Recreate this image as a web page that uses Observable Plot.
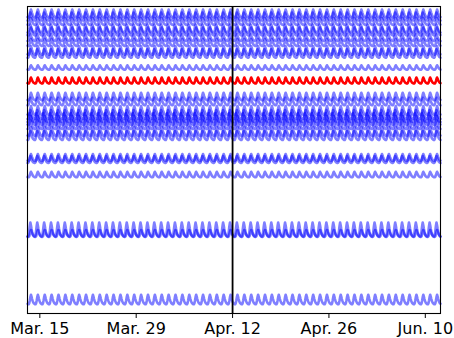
<!DOCTYPE html>
<html>
<head>
<meta charset="utf-8">
<script src="https://cdn.jsdelivr.net/npm/d3@7"></script>
<script src="https://cdn.jsdelivr.net/npm/@observablehq/plot@0.6"></script>
<style>
  html, body { margin: 0; padding: 0; background: #fff; }
  #chart { width: 454px; height: 338px; }
  svg { font-family: "DejaVu Sans", sans-serif; }
</style>
</head>
<body>
<div id="chart"></div>
<script>
// Series baselines (data units) and peak-to-peak daily amplitudes
const seriesLevels = [30.0, 29.7, 29.2, 28.5, 28.2, 27.6, 27.1, 26.3, 26.0, 24.6,
                      21.7, 21.2, 20.3, 19.9, 19.6, 19.3, 18.9, 18.2, 17.8,
                      15.6, 15.4, 13.9, 8.4, 8.0, 1.4];
const seriesAmps   = [0.8, 0.8, 0.7, 0.8, 0.8, 0.7, 0.7, 0.85, 0.85, 0.45,
                      0.75, 0.75, 0.9, 0.9, 0.9, 0.9, 0.9, 0.9, 0.9,
                      0.7, 0.7, 0.55, 1.4, 0.7, 0.95];
// Phase offset of each series' daily cycle, in 2-hour steps
const seriesPhase  = [0, 1, 0, 1, 0, 1, 0, 0, 1, 0,
                      0, 1, 0, 1, 2, 0, 1, 0, 1,
                      0, 1, 0, 1, 0, 0];
// Highlighted (red) series
const redLevel = 23.3;
const redAmp = 0.6;
// Shape of one daily cycle, 2-hour steps
const dailyProfile = [-0.45, -0.5, -0.5, -0.4, -0.1, 0.25, 0.5, 0.3, 0.05, -0.15, -0.3, -0.4];
// Time span and event marker
const startDate = new Date(Date.UTC(2021, 2, 13, 5));
const endDate = new Date(Date.UTC(2021, 4, 12, 5));
const eventDate = [new Date(Date.UTC(2021, 3, 12))];
// Tick positions and labels
const tickDates = [new Date(Date.UTC(2021, 2, 15)), new Date(Date.UTC(2021, 2, 29)),
                   new Date(Date.UTC(2021, 3, 12)), new Date(Date.UTC(2021, 3, 26)),
                   new Date(Date.UTC(2021, 4, 10))];
const tickLabels = ["Mar. 15", "Mar. 29", "Apr. 12", "Apr. 26", "Jun. 10"];

function buildSeries(level, amp, phase, id) {
  const out = [];
  const n = dailyProfile.length;
  const nDays = Math.ceil((endDate - startDate) / 864e5);
  for (let d = 0; d <= nDays; d++) {
    for (let k = 0; k < n; k++) {
      const t = new Date(+startDate + d * 864e5 + k * 2 * 36e5);
      if (t <= endDate) out.push({id, date: t, value: level + amp * dailyProfile[(k + phase) % n]});
    }
  }
  return out;
}

const blueData = seriesLevels.flatMap((lv, i) => buildSeries(lv, seriesAmps[i], seriesPhase[i], i));
const redData = buildSeries(redLevel, redAmp, 0, "red");

const chart = Plot.plot({
  width: 454,
  height: 338,
  marginLeft: 27,
  marginRight: 14,
  marginTop: 6,
  marginBottom: 25,
  style: {fontFamily: "DejaVu Sans, sans-serif", color: "#000", background: "#fff"},
  x: {type: "utc", domain: [startDate, endDate], axis: null},
  y: {domain: [0, 30.7], axis: null},
  marks: [
    Plot.line(blueData, {x: "date", y: "value", z: "id", stroke: "blue", strokeOpacity: 0.5, strokeWidth: 2.6}),
    Plot.line(redData, {x: "date", y: "value", stroke: "red", strokeWidth: 2.6}),
    Plot.ruleX(eventDate, {stroke: "black", strokeWidth: 1.8}),
    Plot.frame({stroke: "black", strokeWidth: 1.1}),
    Plot.axisX(tickDates, {anchor: "bottom", tickSize: 5, tickPadding: 4,
      tickFormat: (d, i) => tickLabels[i], fontSize: 16})
  ]
});
document.getElementById("chart").appendChild(chart);
</script>
</body>
</html>
